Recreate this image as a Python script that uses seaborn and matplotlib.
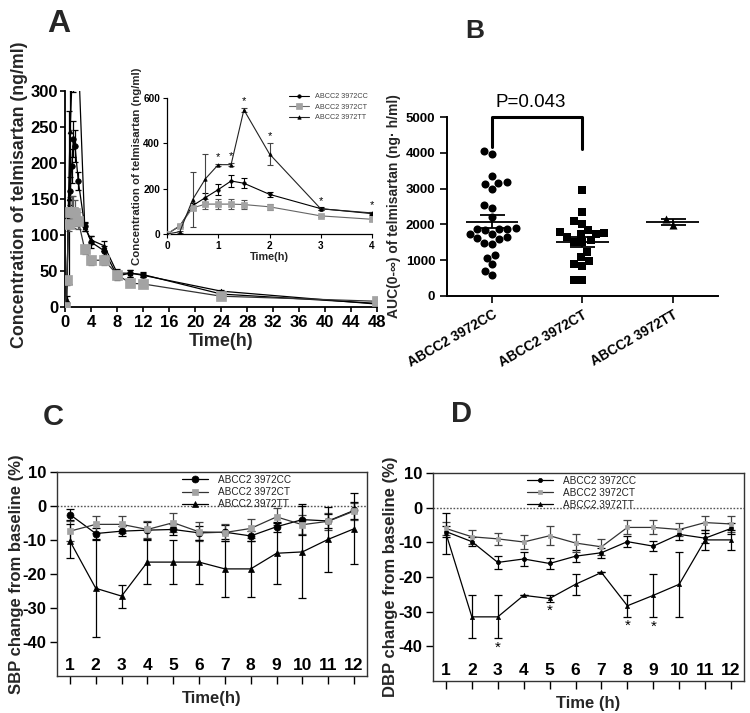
import numpy as np
import pandas as pd
import matplotlib
matplotlib.use("Agg")
import matplotlib.pyplot as plt
import seaborn as sns

sns.set_theme(style="ticks")
plt.rcParams['font.family'] = ['Liberation Sans', 'DejaVu Sans']
plt.rcParams['axes.unicode_minus'] = False

# ---------------- data ----------------
groups = ["ABCC2 3972CC", "ABCC2 3972CT", "ABCC2 3972TT"]

# Panel A: plasma concentration (ng/ml), mean and SE
pk_time = [0, 0.25, 0.5, 0.75, 1, 1.25, 1.5, 2, 3, 4, 6, 8, 10, 12, 24, 48]
pk_cc = [0, 35, 125, 161, 196, 234, 224, 175, 112, 90, 78, 43, 47, 45, 18, 5]
pk_cc_se = [0, 5, 10, 20, 24, 25, 22, 12, 6, 8, 7, 5, 5, 3, 2, 1]
pk_ct = [0, 37, 115, 132, 132, 132, 130, 120, 80, 65, 65, 45, 33, 32, 15, 8]
pk_ct_se = [0, 5, 10, 21, 22, 22, 18, 12, 6, 6, 7, 6, 3, 3, 2, 1]
pk_tt = [0, 10, 152, 244, 306, 306, 548, 353, 111, 93, 85, 47, 47, 44, 22, 4]
pk_tt_se = [0, 5, 120, 110, 5, 8, 8, 47, 5, 5, 7, 6, 5, 3, 2, 1]
inset_star_times = [1, 1.25, 1.5, 2, 3, 4]

# Panel B: AUC(0-inf) individual values
auc_cc = [4052, 3978, 3346, 3190, 3150, 3120, 3000, 2540, 2470, 2210, 1900,
          1880, 1870, 1860, 1840, 1740, 1720, 1640, 1620, 1590, 1470, 1460,
          1150, 1070, 890, 690, 590]
auc_ct = [2960, 2340, 2090, 2010, 1830, 1780, 1750, 1740, 1720, 1650, 1560,
          1510, 1500, 1240, 1080, 990, 880, 840, 460, 440]
auc_tt = [1990, 2140]
p_text = "P=0.043"

# Panel C: SBP change from baseline (%)
bp_time = [1, 2, 3, 4, 5, 6, 7, 8, 9, 10, 11, 12]
sbp_cc = [-2.5, -8.1, -7.4, -7.1, -6.9, -7.9, -7.7, -8.8, -6.1, -4.0, -4.4, -1.3]
sbp_cc_se = [1.5, 1.5, 1.5, 2.5, 1.5, 2, 2, 1.5, 1.5, 4.5, 2, 2.5]
sbp_ct = [-7.4, -5.4, -5.4, -6.9, -4.9, -7.6, -7.8, -6.6, -3.2, -5.5, -4.5, -1.5]
sbp_ct_se = [3, 2.5, 2.5, 2.5, 2.7, 2.8, 2.5, 2.8, 2.5, 2.8, 2.5, 2.5]
sbp_tt = [-10.3, -24.2, -26.5, -16.5, -16.5, -16.5, -18.5, -18.5, -13.9, -13.5, -9.8, -6.7]
sbp_tt_se = [5, 14.2, 3.4, 6.5, 6.5, 6.5, 8.3, 8.3, 9, 13.5, 9.5, 10.5]

# Panel D: DBP change from baseline (%)
dbp_cc = [-6.9, -9.8, -15.8, -14.8, -16.1, -14.0, -13.0, -9.8, -11.1, -7.7, -8.8, -6.0]
dbp_cc_se = [1.5, 1.2, 2, 2, 1.7, 1.8, 1.5, 1.5, 1.5, 1.5, 1.5, 1.5]
dbp_ct = [-6.0, -8.4, -9.0, -9.9, -8.1, -10.2, -11.3, -5.7, -5.7, -6.3, -4.3, -4.7]
dbp_ct_se = [2, 2, 1.7, 2, 2.8, 2.5, 2.3, 2, 2, 2, 2, 2.3]
dbp_tt = [-7.4, -31.5, -31.5, -25.3, -26.2, -22.1, -18.7, -28.3, -25.3, -22.1, -9.3, -9.3]
dbp_tt_se = [6, 6.2, 6.2, 0, 1, 3, 0, 3.1, 6.3, 9.3, 3, 3]
dbp_star_times = [3, 5, 8, 9]

# ---------------- styles ----------------
BLACK = "black"
GRAY = "#a3a3a3"
DGRAY = "#555555"


def series(ax, x, y, se, label, marker, ms, mcolor, lcolor, ecolor, cap, lw=0.9):
    ax.errorbar(x, y, yerr=se, fmt="none", ecolor=ecolor, elinewidth=lw,
                capsize=cap, capthick=lw, zorder=2)
    df = pd.DataFrame({"x": x, "y": y})
    sns.lineplot(data=df, x="x", y="y", ax=ax, color=lcolor, lw=lw,
                 marker=marker, markersize=ms, markerfacecolor=mcolor,
                 markeredgecolor=mcolor, markeredgewidth=0.5,
                 errorbar=None, label=label, zorder=3)


fig = plt.figure(figsize=(7.5, 7.13), dpi=100)

# ---------------- Panel A ----------------
axA = fig.add_axes([0.087, 0.5694, 0.416, 0.303])
series(axA, pk_time, pk_tt, pk_tt_se, groups[2], "^", 3.5, BLACK, BLACK, BLACK, 2.5)
series(axA, pk_time, pk_cc, pk_cc_se, groups[0], "o", 4, BLACK, BLACK, BLACK, 2.5)
series(axA, pk_time, pk_ct, pk_ct_se, groups[1], "s", 6.5, GRAY, "#333333", DGRAY, 2.5)
axA.get_legend().remove()
axA.set_xlim(0, 48)
axA.set_ylim(0, 300)
axA.set_xticks(range(0, 49, 4))
axA.set_yticks(range(0, 301, 50))
for s in ["top", "right"]:
    axA.spines[s].set_visible(False)
for s in ["left", "bottom"]:
    axA.spines[s].set_linewidth(1.3)
    axA.spines[s].set_color("black")
axA.tick_params(direction="out", length=3.5, width=1.2, colors="black", labelsize=12)
axA.tick_params(axis="y", pad=1.5)
axA.tick_params(axis="x", pad=2.5)
for t in axA.get_xticklabels() + axA.get_yticklabels():
    t.set_fontweight("bold")
axA.set_xlabel("Time(h)", fontsize=13, fontweight="bold", labelpad=2)
axA.set_ylabel("Concentration of telmisartan (ng/ml)", fontsize=12.8,
               fontweight="bold")
axA.yaxis.set_label_coords(-0.12, 0.52)
axA.set_facecolor("none")

# inset
axI = fig.add_axes([0.2227, 0.6718, 0.2733, 0.1907])
series(axI, pk_time, pk_cc, pk_cc_se, groups[0], "o", 2.5, BLACK, BLACK, BLACK, 2, lw=0.8)
series(axI, pk_time, pk_ct, pk_ct_se, groups[1], "s", 4, GRAY, "#666666", DGRAY, 2, lw=0.8)
series(axI, pk_time, pk_tt, pk_tt_se, groups[2], "^", 2.5, BLACK, "#222222", "#444444", 2, lw=0.8)
axI.set_xlim(0, 4)
axI.set_ylim(0, 600)
axI.set_xticks([0, 1, 2, 3, 4])
axI.set_yticks([0, 200, 400, 600])
for s in ["top", "right"]:
    axI.spines[s].set_visible(False)
for s in ["left", "bottom"]:
    axI.spines[s].set_linewidth(0.9)
    axI.spines[s].set_color("black")
axI.tick_params(direction="out", length=3, width=0.8, colors="black", labelsize=7.2, pad=2)
for t in axI.get_xticklabels() + axI.get_yticklabels():
    t.set_fontweight("bold")
axI.set_xlabel("Time(h)", fontsize=7.8, fontweight="bold", labelpad=1)
axI.set_ylabel("Concentration of telmisartan (ng/ml)", fontsize=8.2,
               fontweight="bold", labelpad=1)
axI.set_facecolor("none")
for t in inset_star_times:
    i = pk_time.index(t)
    axI.text(t, pk_tt[i] + pk_tt_se[i] + 8, "*", ha="center", va="bottom",
             fontsize=8, color="black", clip_on=False)
legI = axI.legend(loc="upper left", bbox_to_anchor=(0.385, 0.869),
                  bbox_transform=fig.transFigure, frameon=False, fontsize=5.2,
                  handlelength=2.8, handletextpad=0.8, labelspacing=0.45,
                  borderpad=0, borderaxespad=0)
for t in legI.get_texts():
    t.set_color("#444444")

# ---------------- Panel B ----------------
axB = fig.add_axes([0.596, 0.5849, 0.361, 0.251])
auc_df = pd.DataFrame({
    "group": [groups[0]] * len(auc_cc) + [groups[1]] * len(auc_ct) + [groups[2]] * len(auc_tt),
    "auc": auc_cc + auc_ct + auc_tt,
})
markersB = ["o", "s", "^"]
for g, m in zip(groups, markersB):
    sns.swarmplot(data=auc_df[auc_df.group == g], x="group", y="auc", order=groups,
                  marker=m, color="black", size=5.8, ax=axB, zorder=3)
for i, g in enumerate(groups):
    vals = np.array(auc_df.loc[auc_df.group == g, "auc"], dtype=float)
    mean = vals.mean()
    sem = vals.std(ddof=1) / np.sqrt(len(vals))
    axB.hlines(mean, i - 0.29, i + 0.29, color="black", lw=1.3, zorder=4)
    axB.errorbar(i, mean, yerr=sem, fmt="none", ecolor="black", elinewidth=1.3,
                 capsize=9, capthick=1.3, zorder=4)
axB.set_xlim(-0.5, 2.5)
axB.set_ylim(0, 5000)
axB.set_yticks(range(0, 5001, 1000))
for s in ["top", "right"]:
    axB.spines[s].set_visible(False)
for s in ["left", "bottom"]:
    axB.spines[s].set_linewidth(1.4)
    axB.spines[s].set_color("black")
axB.tick_params(direction="out", length=5, width=1.2, colors="black", labelsize=9.5)
axB.set_xticks(range(3))
axB.set_xticklabels(groups, rotation=30, ha="right", rotation_mode="anchor",
                    fontweight="bold", fontsize=9.8)
for t in axB.get_yticklabels():
    t.set_fontweight("bold")
axB.set_xlabel("")
axB.set_ylabel("AUC(0-∞) of telmisartan (ng· h/ml)", fontsize=10,
               fontweight="bold", labelpad=3)
bracket_left, bracket_right, bracket_top = 4150, 4100, 5000
axB.plot([0, 0, 1, 1], [bracket_left, bracket_top, bracket_top, bracket_right],
         color="black", lw=2.2, clip_on=False, zorder=5)
axB.text(0.43, bracket_top + 170, p_text, ha="center", va="bottom",
         fontsize=13.5, color="black", clip_on=False)

# ---------------- Panels C and D ----------------
def bp_panel(ax, cc, cc_se, ct, ct_se, tt, tt_se, ylabel, xlabel, ms, legpos, ylab_x):
    series(ax, bp_time, cc, cc_se, groups[0], "o", ms, BLACK, BLACK, BLACK, 3)
    series(ax, bp_time, ct, ct_se, groups[1], "s", ms, GRAY, "#333333", "#444444", 3)
    series(ax, bp_time, tt, tt_se, groups[2], "^", ms, BLACK, BLACK, BLACK, 3)
    ax.axhline(0, ls=(0, (1.2, 1.2)), color="#555555", lw=1.0, zorder=1)
    ax.set_xlim(0.5, 12.5)
    ax.set_ylim(-50, 10)
    ax.set_xticks(bp_time)
    ax.set_yticks(range(-40, 11, 10))
    for s in ax.spines.values():
        s.set_linewidth(1.0)
        s.set_color("#333333")
        s.set_visible(True)
    ax.tick_params(axis="y", direction="out", length=5, width=1.0, colors="black",
                   labelsize=12, pad=2.5)
    ax.tick_params(axis="x", direction="out", length=6, width=1.0, colors="black",
                   labelsize=12.5, pad=-19)
    for t in ax.get_xticklabels() + ax.get_yticklabels():
        t.set_fontweight("bold")
    ax.set_xlabel(xlabel, fontsize=12, fontweight="bold", labelpad=5)
    ax.set_ylabel(ylabel, fontsize=12, fontweight="bold")
    ax.yaxis.set_label_coords(ylab_x, 0.5)
    ax.set_facecolor("white")
    leg = ax.legend(loc="upper left", bbox_to_anchor=legpos,
                    bbox_transform=fig.transFigure, frameon=False, fontsize=7.2,
                    handlelength=2.6, handletextpad=1.0, labelspacing=0.22,
                    borderpad=0, borderaxespad=0)
    for t in leg.get_texts():
        t.set_color("#222222")
    return ax


axC = fig.add_axes([0.076, 0.0519, 0.4133, 0.2861])
bp_panel(axC, sbp_cc, sbp_cc_se, sbp_ct, sbp_ct_se, sbp_tt, sbp_tt_se,
         "SBP change from baseline (%)", "Time(h)", 5, (0.243, 0.334), -0.108)

axD = fig.add_axes([0.5773, 0.0449, 0.4147, 0.2917])
bp_panel(axD, dbp_cc, dbp_cc_se, dbp_ct, dbp_ct_se, dbp_tt, dbp_tt_se,
         "DBP change from baseline (%)", "Time (h)", 3, (0.703, 0.333), -0.113)
for t in dbp_star_times:
    i = bp_time.index(t)
    axD.text(t, dbp_tt[i] - dbp_tt_se[i] - 0.6, "*", ha="center", va="top",
             fontsize=11, color="black")

# panel letters
fig.text(0.063, 0.966, "A", fontsize=23, fontweight="bold", ha="left", va="center")
fig.text(0.620, 0.956, "B", fontsize=19, fontweight="bold", ha="left", va="center")
fig.text(0.057, 0.415, "C", fontsize=21, fontweight="bold", ha="left", va="center")
fig.text(0.601, 0.419, "D", fontsize=21, fontweight="bold", ha="left", va="center")

fig.savefig("out.png", dpi=100, facecolor="white")
